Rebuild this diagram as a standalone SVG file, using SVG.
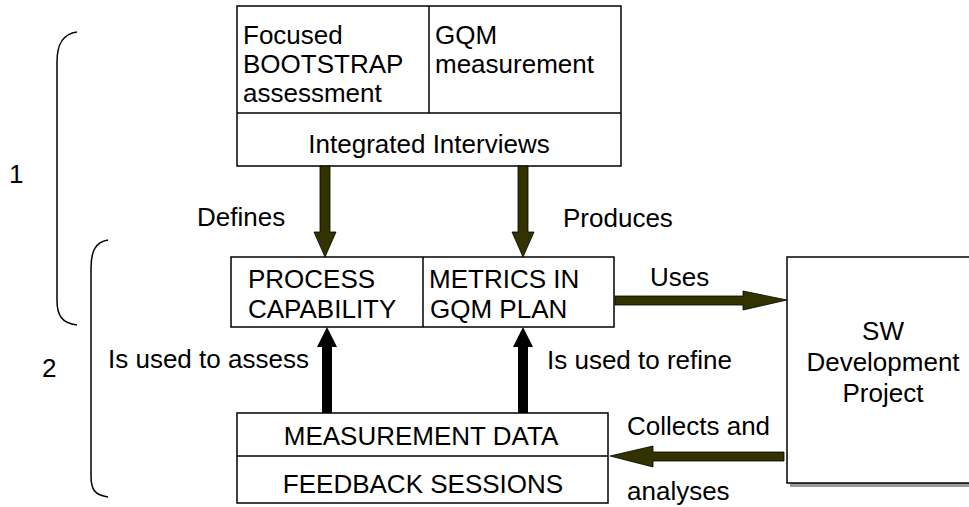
<svg xmlns="http://www.w3.org/2000/svg" width="969" height="507" viewBox="0 0 969 507">
<style>
text{font-family:"Liberation Sans",Arial,sans-serif;font-size:26px;fill:#000}
.box{fill:#fff;stroke:#000;stroke-width:1.5}
.ln{stroke:#000;stroke-width:1.5;fill:none}
.olive{fill:#333300;stroke:#000;stroke-width:0.8}
.blk{fill:#000;stroke:none}
.brace{fill:none;stroke:#000;stroke-width:1.5}
.mid{text-anchor:middle}
</style>
<rect width="969" height="507" fill="#fff"/>
<g id="brace1"><path class="brace" d="M77,32 C62,34 57,45 57,62 L57,300 C57,316 62,323 77,325"/><text x="9" y="183">1</text></g>
<g id="brace2"><path class="brace" d="M108,240 C95,242 91,252 91,268 L91,476 C91,490 95,495 108,497"/><text x="42" y="377">2</text></g>
<g id="top">
<rect class="box" x="237" y="6" width="384" height="160"/>
<line class="ln" x1="429" y1="6" x2="429" y2="113"/>
<line class="ln" x1="237" y1="113" x2="621" y2="113"/>
<text x="243" y="44">Focused</text>
<text x="243" y="73">BOOTSTRAP</text>
<text x="243" y="102">assessment</text>
<text x="435" y="44">GQM</text>
<text x="435" y="73">measurement</text>
<text class="mid" x="429" y="153">Integrated Interviews</text>
</g>
<g id="middle">
<rect class="box" x="231" y="257" width="383" height="70"/>
<line class="ln" x1="423" y1="257" x2="423" y2="327"/>
<text x="248" y="288">PROCESS</text>
<text x="248" y="318">CAPABILITY</text>
<text x="429" y="288">METRICS IN</text>
<text x="430" y="318">GQM PLAN</text>
</g>
<g id="bottom">
<rect class="box" x="237" y="413" width="371" height="90"/>
<line class="ln" x1="237" y1="456" x2="608" y2="456"/>
<text class="mid" x="421" y="445">MEASUREMENT DATA</text>
<text class="mid" x="423" y="493">FEEDBACK SESSIONS</text>
</g>
<g id="sw">
<rect x="790" y="260" width="190" height="227" fill="#999"/>
<rect class="box" x="787" y="257" width="190" height="226"/>
<text class="mid" x="883" y="340">SW</text>
<text class="mid" x="883" y="371">Development</text>
<text class="mid" x="883" y="402">Project</text>
</g>
<g id="connectors">
<polygon class="olive" points="320,166 330,166 330,232 336,232 325,257 314,232 320,232"/>
<polygon class="olive" points="518,166 528,166 528,232 534,232 523,257 512,232 518,232"/>
<polygon class="blk" points="327,327 337,347 332,347 332,413 322,413 322,347 317,347"/>
<polygon class="blk" points="523,327 533,347 528,347 528,413 518,413 518,347 513,347"/>
<polygon class="olive" points="615,296 743,296 743,291 787,300 743,310 743,305 615,305"/>
<polygon class="olive" points="784,452 653,452 653,446 610,456 653,467 653,461 784,461"/>
<text x="197" y="226">Defines</text>
<text x="563" y="227">Produces</text>
<text x="108" y="368">Is used to assess</text>
<text x="547" y="369">Is used to refine</text>
<text x="650" y="286">Uses</text>
<text x="627" y="435">Collects and</text>
<text x="627" y="500">analyses</text>
</g>
</svg>
